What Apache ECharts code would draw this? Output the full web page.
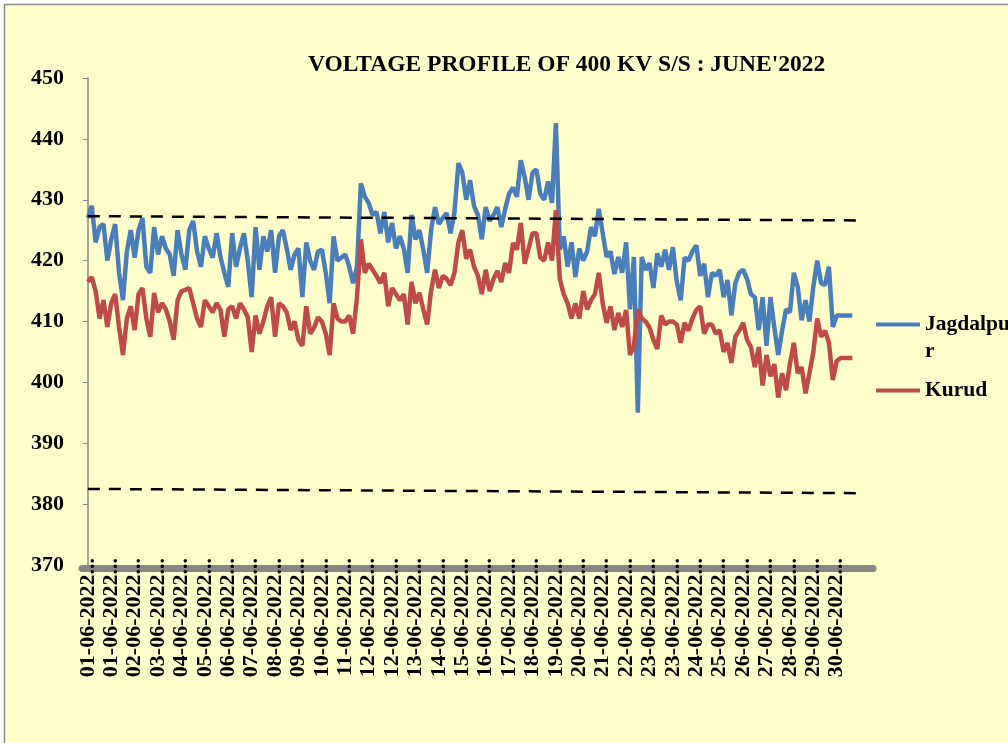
<!DOCTYPE html>
<html>
<head>
<meta charset="utf-8">
<script src="https://cdn.jsdelivr.net/npm/echarts@6/dist/echarts.min.js"></script>
<style>html,body{margin:0;padding:0;background:#fff}#c{width:1008px;height:743px}</style>
</head>
<body>
<div id="c"></div>
<script>
const xLabels = ['01-06-2022','01-06-2022','02-06-2022','03-06-2022','04-06-2022','05-06-2022','06-06-2022','07-06-2022','08-06-2022','09-06-2022','10-06-2022',
  '11-06-2022','12-06-2022','12-06-2022','13-06-2022','14-06-2022','15-06-2022','16-06-2022','17-06-2022','18-06-2022','19-06-2022','20-06-2022',
  '21-06-2022','22-06-2022','23-06-2022','23-06-2022','24-06-2022','25-06-2022','26-06-2022','27-06-2022','28-06-2022','29-06-2022','30-06-2022'];
const labelStep = 6;
const jagdalpur = [
  427, 429, 423, 425.5, 426, 420, 423.5, 426, 418, 413.5,
  421.5, 425, 420.5, 425, 427, 419, 418, 425.5, 421, 424,
  422, 421, 417.5, 425, 421, 418.5, 425, 426.5, 421.5, 419,
  424, 422, 420.5, 424.5, 420.6, 418, 415.7, 424.5, 419, 422,
  424.5, 420, 414, 425.5, 418.5, 424, 421.5, 425, 418, 424,
  425, 422, 418.5, 421, 422, 414, 423, 420, 418.5, 421.5,
  421.8, 418, 413, 424, 420, 420.5, 421, 419, 416.3, 419,
  432.7, 430.5, 429.5, 427.5, 428, 424.5, 428, 423, 426.2, 422,
  424, 422, 418, 427.5, 423.5, 425, 421.8, 418, 425, 428.8,
  426, 427, 427.8, 424.5, 428, 436, 434.5, 430, 433.2, 429,
  427.5, 423.5, 428.8, 426.5, 427.5, 428.8, 425.5, 428.5, 431, 432,
  430.5, 436.5, 433.7, 430, 434.4, 435, 431, 430, 433, 429.5,
  442.6, 421.8, 424, 419, 423, 417.3, 422, 420, 421.5, 425.5,
  424, 428.5, 424.5, 420.6, 421.5, 417.8, 420.6, 418, 423, 412,
  420.6, 395, 420.6, 418.5, 419.6, 415.5, 421.2, 419, 421.8, 418.5,
  422.2, 416.5, 413.5, 420.5, 420, 421.5, 422.5, 417.5, 419.5, 414,
  418, 417.5, 418.5, 414, 416.8, 411, 416.3, 418, 418.5, 417,
  414.5, 414, 408.6, 414, 406, 414, 409, 404.5, 408.5, 412,
  411.5, 418, 415.7, 410.2, 413.5, 410, 415.7, 420, 416.3, 416,
  419, 409.1, 411, 411, 411, 411, 411
];
const kurud = [
  416.5, 417.3, 415, 410.5, 413.5, 409.1, 413, 414.5, 409.1, 404.5,
  410.5, 412.5, 408.6, 414.5, 415.5, 410.5, 407.5, 414.7, 411.5, 413,
  412, 410, 407, 413.5, 415, 415.2, 415.5, 413, 410.5, 409.1,
  413.5, 412.5, 411.5, 413, 411.9, 407.5, 412, 412.5, 410.5, 413,
  412, 410.7, 405, 411, 408, 410, 412.5, 414, 407.5, 413,
  412.5, 411.5, 408.6, 410, 407, 406, 412.5, 408, 409, 410.7,
  410, 408, 404.5, 413, 410.5, 410, 410, 411, 408, 414,
  423.5, 418, 419.5, 418.5, 417.5, 416.3, 418, 412.5, 415.5, 414.5,
  413.5, 414.5, 409.5, 416.5, 413, 414.7, 412, 409.5, 415, 418.5,
  415.5, 417.5, 417, 416, 418, 423, 425, 420.3, 421.8, 419,
  417.5, 414.5, 418.5, 415, 417, 418.3, 416.5, 419.6, 418, 422.9,
  421.8, 426.2, 419.5, 422, 424.5, 424.5, 420.5, 420, 423, 420,
  428.3, 417, 414.5, 413, 410.5, 413, 410.5, 415, 412, 413.5,
  414.5, 418, 413, 409.8, 412.5, 408.6, 411.4, 409.1, 411.9, 404.5,
  406, 412, 410.5, 410, 409, 407, 405.5, 411, 409.5, 410,
  410, 409.5, 406.5, 409.8, 408.5, 410.5, 411.9, 412.5, 408, 409.5,
  409.5, 408, 408.6, 405, 406.5, 403.2, 407.5, 408.5, 409.8, 407,
  405.8, 402.5, 405.8, 399.5, 404.5, 401, 403, 397.5, 401.5, 398.7,
  403, 406.5, 401.5, 402.5, 398.2, 401.5, 405, 410.5, 407.5, 408.5,
  406.5, 400.4, 403.5, 404, 404, 404, 404
];
const upperLimit = [427.3, 426.6];
const lowerLimit = [382.5, 381.8];
const limitIdx = [0, 198];

const FONT = "'Liberation Serif','Times New Roman',serif";
const chart = echarts.init(document.getElementById('c'), null, {renderer: 'canvas'});
const toPairs = arr => arr.map((v, i) => [i, v]);
const limPairs = arr => arr.map((v, k) => [limitIdx[k], v]);

chart.setOption({
  backgroundColor: '#ffffff',
  animation: false,
  graphic: [{
    type: 'rect', z: -10, silent: true,
    shape: {x: 4.5, y: 4.5, width: 1010, height: 745},
    style: {fill: '#FFFFCC', stroke: '#8c8c8c', lineWidth: 1.5}
  }],
  title: {
    text: "VOLTAGE PROFILE OF 400 KV S/S : JUNE'2022",
    left: 303, top: 48,
    textStyle: {fontFamily: FONT, fontSize: 23.5, fontWeight: 'bold', color: '#000'}
  },
  legend: [{
    data: ['Jagdalpur'],
    orient: 'vertical', left: 876, top: 284, padding: 0,
    icon: 'rect', itemWidth: 44, itemHeight: 4,
    formatter: name => '\n' + name,
    textStyle: {fontFamily: FONT, fontSize: 21.5, fontWeight: 'bold', color: '#000',
      width: 90, overflow: 'break', lineHeight: 27}
  }, {
    data: ['Kurud'],
    orient: 'vertical', left: 876, top: 377, padding: 0,
    icon: 'rect', itemWidth: 44, itemHeight: 4,
    textStyle: {fontFamily: FONT, fontSize: 21.5, fontWeight: 'bold', color: '#000', lineHeight: 27}
  }],
  grid: {left: 82, right: 135, top: 78, bottom: 178, containLabel: false},
  xAxis: {
    type: 'value', min: -1.5, max: 201.3, offset: 3,
    axisLine: {show: true, onZero: false, lineStyle: {color: '#868686', width: 7}},
    axisTick: {show: false},
    splitLine: {show: false},
    axisLabel: {
      customValues: xLabels.map((_, k) => k * labelStep),
      formatter: v => xLabels[Math.round(v / labelStep)] + '...',
      rotate: 90, margin: -10,
      fontFamily: FONT, fontSize: 22, fontWeight: 'bold', color: '#000'
    }
  },
  yAxis: {
    type: 'value', min: 370, max: 450, interval: 10,
    axisLine: {show: true, lineStyle: {color: '#868686', width: 1.5}},
    axisTick: {show: true, length: 5, lineStyle: {color: '#868686'}},
    splitLine: {show: false},
    axisLabel: {margin: 18, fontFamily: FONT, fontSize: 22, fontWeight: 'bold', color: '#000'}
  },
  series: [
    {name: 'Jagdalpur', type: 'line', data: toPairs(jagdalpur), symbol: 'none',
      itemStyle: {color: '#4A7EBB'}, lineStyle: {color: '#4A7EBB', width: 4.5}},
    {name: 'Kurud', type: 'line', data: toPairs(kurud), symbol: 'none',
      itemStyle: {color: '#BE4B48'}, lineStyle: {color: '#BE4B48', width: 4.5}},
    {name: 'Upper limit', type: 'line', data: limPairs(upperLimit), symbol: 'none', silent: true,
      lineStyle: {color: '#000', width: 2.5, type: [12, 9]}},
    {name: 'Lower limit', type: 'line', data: limPairs(lowerLimit), symbol: 'none', silent: true,
      lineStyle: {color: '#000', width: 2.5, type: [12, 9]}}
  ]
});
</script>
</body>
</html>
